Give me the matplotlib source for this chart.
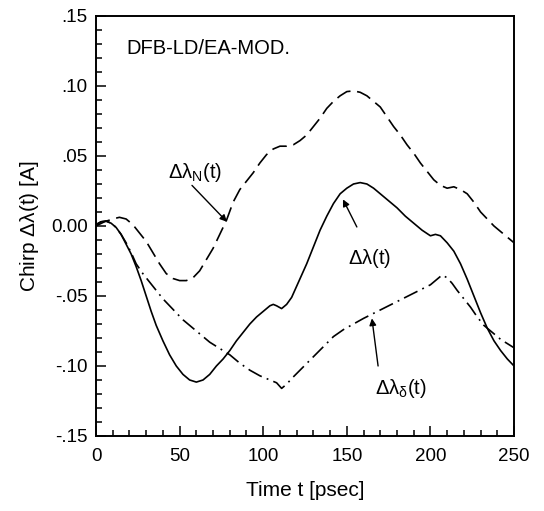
import matplotlib
matplotlib.use("Agg")
import matplotlib.pyplot as plt
from matplotlib.ticker import MultipleLocator, FuncFormatter

plt.rcParams["font.family"] = ["Liberation Sans", "DejaVu Sans"]
plt.rcParams["mathtext.fontset"] = "custom"
plt.rcParams["mathtext.rm"] = "Liberation Sans"
plt.rcParams["mathtext.default"] = "regular"

# total chirp
t_total = [0, 3, 6, 9, 12, 15, 18, 21, 24, 27, 30, 33, 36, 40, 44, 48, 52, 56,
           60, 64, 68, 72, 76, 80, 84, 88, 92, 96, 100, 104, 106, 108, 111, 114,
           117, 120, 123, 126, 130, 134, 138, 142, 146, 150, 154, 158, 162, 166,
           170, 175, 180, 185, 190, 195, 200, 203, 206, 210, 214, 218, 222, 226,
           230, 234, 238, 242, 246, 250]
chirp_total = [0.001, 0.003, 0.0035, 0.002, -0.001, -0.006, -0.013, -0.020,
               -0.029, -0.039, -0.050, -0.061, -0.071, -0.082, -0.092, -0.100,
               -0.106, -0.110, -0.1115, -0.110, -0.106, -0.100, -0.095, -0.089,
               -0.082, -0.076, -0.070, -0.065, -0.061, -0.057, -0.056, -0.057,
               -0.059, -0.056, -0.051, -0.043, -0.035, -0.027, -0.015, -0.003,
               0.007, 0.016, 0.023, 0.027, 0.030, 0.031, 0.030, 0.027, 0.023,
               0.018, 0.013, 0.007, 0.002, -0.003, -0.007, -0.006, -0.007,
               -0.012, -0.018, -0.027, -0.038, -0.050, -0.062, -0.073, -0.082,
               -0.089, -0.095, -0.100]

# carrier (N) chirp
t_n = [0, 5, 10, 14, 18, 22, 26, 30, 34, 38, 42, 46, 50, 54, 58, 62, 66, 70,
       74, 78, 82, 86, 90, 94, 98, 102, 106, 110, 114, 118, 122, 126, 130, 134,
       138, 142, 146, 150, 154, 158, 162, 166, 170, 174, 178, 182, 186, 190,
       194, 198, 202, 206, 210, 214, 218, 222, 226, 230, 234, 238, 242, 246, 250]
chirp_n = [0.000, 0.003, 0.005, 0.0062, 0.005, 0.001, -0.005, -0.011, -0.019,
           -0.027, -0.034, -0.0375, -0.039, -0.039, -0.037, -0.032, -0.024,
           -0.016, -0.006, 0.004, 0.017, 0.026, 0.032, 0.038, 0.045, 0.051,
           0.055, 0.057, 0.057, 0.058, 0.061, 0.065, 0.071, 0.077, 0.084,
           0.089, 0.093, 0.096, 0.0965, 0.0955, 0.093, 0.089, 0.085, 0.078,
           0.071, 0.065, 0.058, 0.052, 0.045, 0.039, 0.033, 0.029, 0.027,
           0.028, 0.026, 0.023, 0.017, 0.010, 0.005, 0.000, -0.004, -0.008,
           -0.012]

# delta chirp
t_d = [0, 3, 6, 9, 12, 15, 18, 21, 24, 28, 32, 36, 40, 44, 48, 52, 56, 60, 64,
       68, 72, 76, 80, 86, 92, 98, 104, 108, 111, 114, 117, 122, 127, 132, 137,
       142, 148, 154, 160, 170, 180, 190, 200, 204, 207, 210, 213, 216, 220,
       224, 228, 232, 235, 238, 242, 246, 250]
chirp_d = [0.001, 0.003, 0.0035, 0.002, -0.001, -0.006, -0.012, -0.019, -0.027,
           -0.034, -0.040, -0.046, -0.052, -0.057, -0.062, -0.067, -0.071,
           -0.075, -0.079, -0.083, -0.086, -0.089, -0.092, -0.098, -0.103,
           -0.107, -0.110, -0.112, -0.116, -0.113, -0.109, -0.103, -0.097,
           -0.091, -0.085, -0.079, -0.074, -0.070, -0.066, -0.060, -0.054,
           -0.048, -0.042, -0.038, -0.035, -0.037, -0.041, -0.046, -0.052,
           -0.058, -0.065, -0.071, -0.074, -0.077, -0.081, -0.084, -0.087]


def yfmt(v, pos):
    if abs(v) < 1e-9:
        return "0.00"
    return f"{v:.2f}".replace("0.", ".", 1)


fig = plt.figure(figsize=(5.44, 5.11), dpi=100)
ax = fig.add_axes([0.1765, 0.1468, 0.7684, 0.8219])

lw = 1.2
ax.plot(t_total, chirp_total, color="black", lw=lw)
ax.plot(t_n, chirp_n, color="black", lw=lw, dashes=(9, 4))
ax.plot(t_d, chirp_d, color="black", lw=lw, dashes=(9, 3.2, 1.1, 3.2))

ax.set_xlim(0, 250)
ax.set_ylim(-0.15, 0.15)
ax.xaxis.set_major_locator(MultipleLocator(50))
ax.xaxis.set_minor_locator(MultipleLocator(10))
ax.yaxis.set_major_locator(MultipleLocator(0.05))
ax.yaxis.set_minor_locator(MultipleLocator(0.01))
ax.yaxis.set_major_formatter(FuncFormatter(yfmt))
ax.tick_params(which="both", direction="in", labelsize=13.5, width=1.1)
ax.tick_params(which="major", length=7)
ax.tick_params(which="minor", length=4)
ax.tick_params(axis="x", pad=9)
ax.tick_params(axis="y", pad=6)
for s in ax.spines.values():
    s.set_linewidth(1.4)

ax.set_xlabel("Time t [psec]", fontsize=15, labelpad=11)
ax.set_ylabel(r"Chirp $\Delta\lambda(t)$ [A]", fontsize=15, labelpad=7)

ax.text(18, 0.127, "DFB-LD/EA-MOD.", fontsize=14.5, va="center", ha="left")

arrow = dict(arrowstyle="-|>", color="black", lw=1.0, mutation_scale=10,
             shrinkA=0, shrinkB=0)
ax.text(43, 0.038, r"$\Delta\lambda_N(t)$", fontsize=14.5, va="center", ha="left")
ax.annotate("", xy=(78.3, 0.003), xytext=(57.4, 0.029), arrowprops=arrow)

ax.text(150.7, -0.023, r"$\Delta\lambda(t)$", fontsize=14.5, va="center", ha="left")
ax.annotate("", xy=(147.7, 0.019), xytext=(156, -0.0007), arrowprops=arrow)

ax.text(167, -0.116, r"$\Delta\lambda_\delta(t)$", fontsize=14.5, va="center", ha="left")
ax.annotate("", xy=(165, -0.066), xytext=(168.7, -0.1), arrowprops=arrow)

fig.savefig("out.png", dpi=100)
